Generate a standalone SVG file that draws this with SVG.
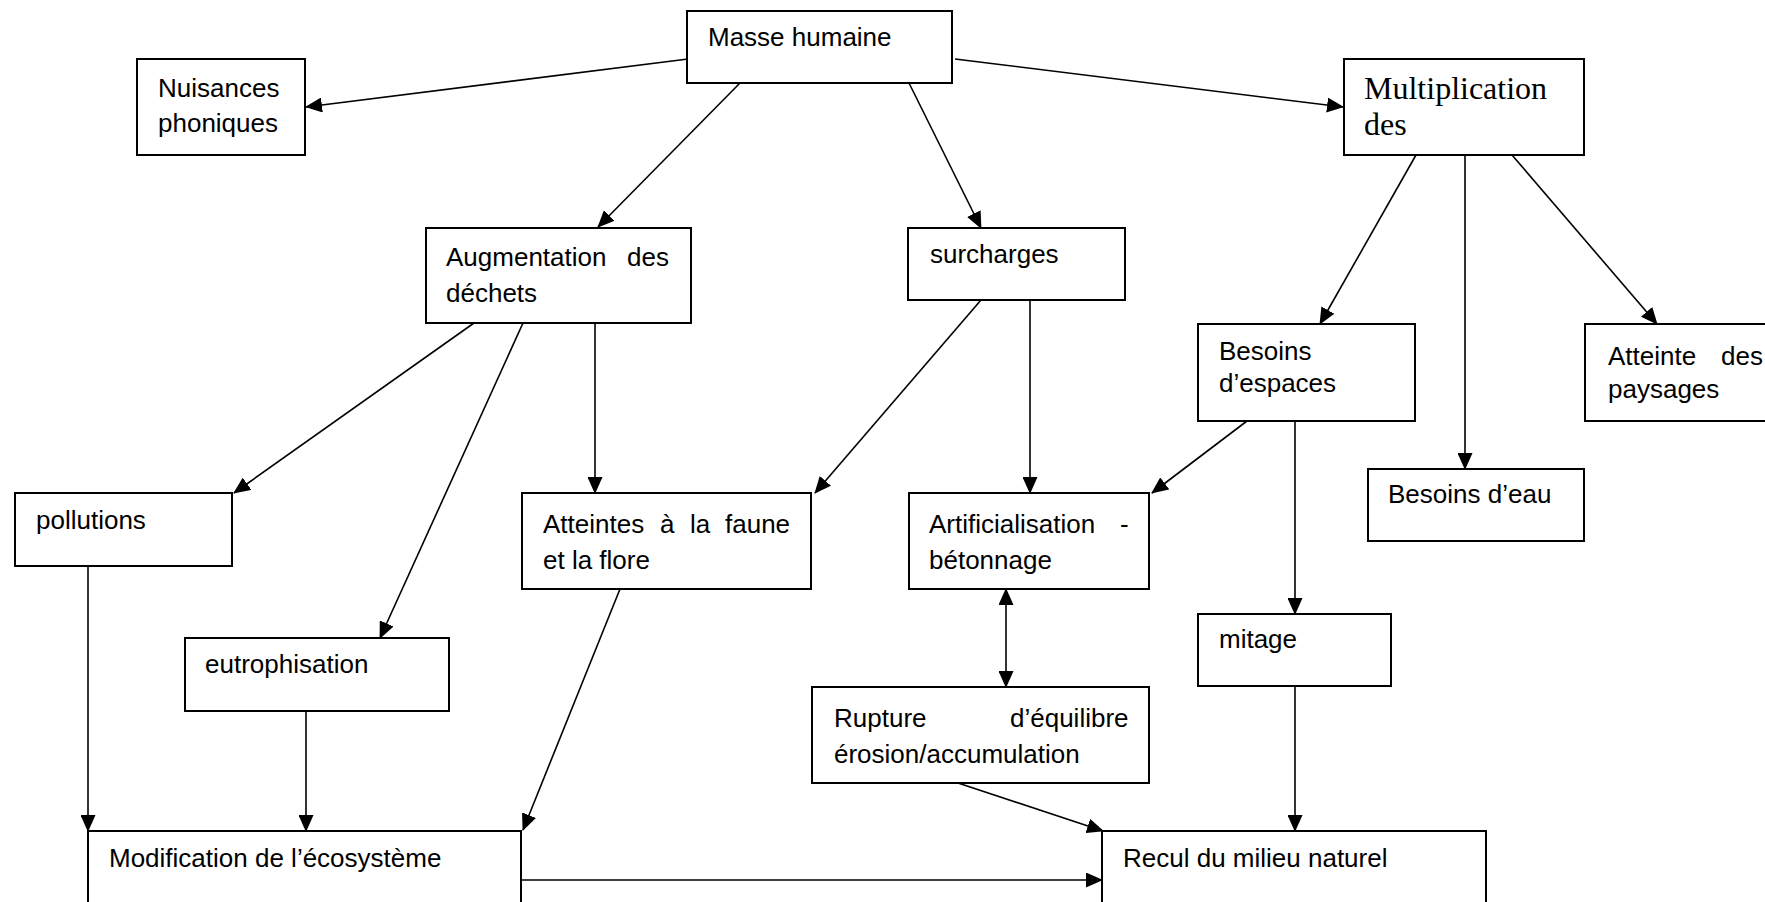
<svg xmlns="http://www.w3.org/2000/svg" width="1765" height="902" viewBox="0 0 1765 902">
<style>
.box{fill:#fff;stroke:#000;stroke-width:2}
.t{font-family:"Liberation Sans",Arial,sans-serif;font-size:26px;fill:#000}
.tt{font-family:"Liberation Serif","Times New Roman",serif;font-size:32px;fill:#000}
.c line{stroke:#000;stroke-width:1.6;marker-end:url(#ah)}
</style>
<defs>
<marker id="ah" markerUnits="userSpaceOnUse" markerWidth="17" markerHeight="15" viewBox="0 0 17 15" refX="16" refY="7.5" orient="auto"><path d="M0,0 L17,7.5 L0,15 z" fill="#000"/></marker>
<marker id="ahs" markerUnits="userSpaceOnUse" markerWidth="17" markerHeight="15" viewBox="0 0 17 15" refX="1" refY="7.5" orient="auto"><path d="M17,0 L0,7.5 L17,15 z" fill="#000"/></marker>
</defs>
<rect width="1765" height="902" fill="#fff"/>
<g class="c" id="connectors">
<line x1="688" y1="59" x2="306" y2="107"/>
<line x1="740" y1="83" x2="598" y2="227"/>
<line x1="909" y1="83" x2="981" y2="228"/>
<line x1="955" y1="59" x2="1343" y2="107"/>
<line x1="474" y1="323" x2="234" y2="493"/>
<line x1="523" y1="323" x2="380" y2="638"/>
<line x1="595" y1="323" x2="595" y2="493"/>
<line x1="981" y1="300" x2="815" y2="493"/>
<line x1="1030" y1="300" x2="1030" y2="493"/>
<line x1="1416" y1="155" x2="1320" y2="324"/>
<line x1="1465" y1="155" x2="1465" y2="469"/>
<line x1="1512" y1="155" x2="1657" y2="324"/>
<line x1="1247" y1="421" x2="1152" y2="493"/>
<line x1="1295" y1="421" x2="1295" y2="614"/>
<line x1="1006" y1="589" x2="1006" y2="687" marker-start="url(#ahs)"/>
<line x1="88" y1="566" x2="88" y2="831"/>
<line x1="306" y1="711" x2="306" y2="831"/>
<line x1="620" y1="589" x2="523" y2="830"/>
<line x1="958" y1="783" x2="1103" y2="831"/>
<line x1="1295" y1="686" x2="1295" y2="831"/>
<line x1="522" y1="880" x2="1102" y2="880"/>
</g>
<g id="masse"><rect class="box" x="687" y="11" width="265" height="72"/><text class="t" x="708" y="46">Masse humaine</text></g>
<g id="nuisances"><rect class="box" x="137" y="59" width="168" height="96"/><text class="t" x="158" y="97">Nuisances</text><text class="t" x="158" y="132">phoniques</text></g>
<g id="multiplication"><rect class="box" x="1344" y="59" width="240" height="96"/><text class="tt" x="1364" y="99">Multiplication</text><text class="tt" x="1364" y="135">des</text></g>
<g id="augmentation"><rect class="box" x="426" y="228" width="265" height="95"/><text class="t" x="446" y="266">Augmentation</text><text class="t" x="627" y="266">des</text><text class="t" x="446" y="302">déchets</text></g>
<g id="surcharges"><rect class="box" x="908" y="228" width="217" height="72"/><text class="t" x="930" y="263">surcharges</text></g>
<g id="besoins-espaces"><rect class="box" x="1198" y="324" width="217" height="97"/><text class="t" x="1219" y="360">Besoins</text><text class="t" x="1219" y="392">d’espaces</text></g>
<g id="atteinte-paysages"><rect class="box" x="1585" y="324" width="200" height="97"/><text class="t" x="1608" y="365">Atteinte</text><text class="t" x="1721" y="365">des</text><text class="t" x="1608" y="398">paysages</text></g>
<g id="besoins-eau"><rect class="box" x="1368" y="469" width="216" height="72"/><text class="t" x="1388" y="503">Besoins d’eau</text></g>
<g id="pollutions"><rect class="box" x="15" y="493" width="217" height="73"/><text class="t" x="36" y="529">pollutions</text></g>
<g id="atteintes-faune"><rect class="box" x="522" y="493" width="289" height="96"/><text class="t" y="533"><tspan x="543">Atteintes</tspan><tspan x="660">à</tspan><tspan x="690">la</tspan><tspan x="725">faune</tspan></text><text class="t" x="543" y="569">et la flore</text></g>
<g id="artificialisation"><rect class="box" x="909" y="493" width="240" height="96"/><text class="t" x="929" y="533">Artificialisation</text><text class="t" x="1120" y="533">-</text><text class="t" x="929" y="569">bétonnage</text></g>
<g id="eutrophisation"><rect class="box" x="185" y="638" width="264" height="73"/><text class="t" x="205" y="673">eutrophisation</text></g>
<g id="mitage"><rect class="box" x="1198" y="614" width="193" height="72"/><text class="t" x="1219" y="648">mitage</text></g>
<g id="rupture"><rect class="box" x="812" y="687" width="337" height="96"/><text class="t" x="834" y="727">Rupture</text><text class="t" x="1010" y="727">d’équilibre</text><text class="t" x="834" y="763">érosion/accumulation</text></g>
<g id="modification"><rect class="box" x="88" y="831" width="433" height="100"/><text class="t" x="109" y="867">Modification de l’écosystème</text></g>
<g id="recul"><rect class="box" x="1102" y="831" width="384" height="100"/><text class="t" x="1123" y="867">Recul du milieu naturel</text></g>
</svg>
